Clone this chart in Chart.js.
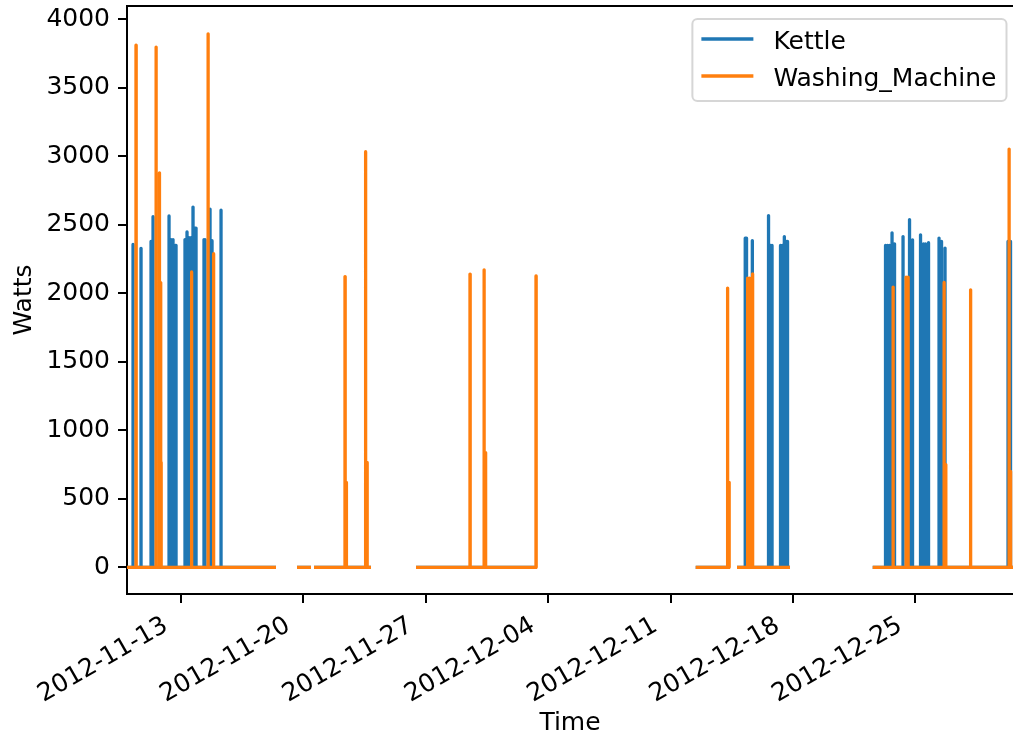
<!DOCTYPE html>
<html>
<head>
<meta charset="utf-8">
<title>Kettle and washing machine power</title>
<script src="https://cdn.jsdelivr.net/npm/chart.js@4.4.0/dist/chart.umd.min.js"></script>
<style>
  html, body { margin: 0; padding: 0; background: #fff; overflow: hidden; }
  canvas { display: block; }
</style>
</head>
<body>
<canvas id="chart" width="1013" height="738"></canvas>
<script>
// Periods in which the meter was logging (start / end of each recorded span)
const spanStart = ['2012-11-09 21:52', '2012-11-19 15:14', '2012-11-20 14:35', '2012-11-26 10:37',
                   '2012-12-12 10:35', '2012-12-14 19:17', '2012-12-22 13:34'];
const spanEnd   = ['2012-11-18 10:25', '2012-11-20 10:28', '2012-11-23 20:50', '2012-12-03 08:43',
                   '2012-12-14 09:40', '2012-12-17 20:02', '2012-12-31 00:00'];

// Kettle switch-on times and power drawn (W)
const kettleOn = [
  '2012-11-10 06:07', '2012-11-10 17:05', '2012-11-11 06:49', '2012-11-11 09:34',
  '2012-11-12 07:32', '2012-11-12 10:16', '2012-11-12 13:01', '2012-11-12 15:46', '2012-11-12 17:08',
  '2012-11-13 05:29', '2012-11-13 08:14', '2012-11-13 10:59', '2012-11-13 13:44', '2012-11-13 16:28',
  '2012-11-13 19:13', '2012-11-13 20:35', '2012-11-14 07:34', '2012-11-14 08:57', '2012-11-14 15:49',
  '2012-11-14 18:34', '2012-11-15 06:55',
  '2012-12-15 06:32', '2012-12-15 08:19', '2012-12-15 16:17', '2012-12-16 14:31', '2012-12-16 17:16',
  '2012-12-16 19:19', '2012-12-17 06:59', '2012-12-17 09:28', '2012-12-17 12:13', '2012-12-17 14:58',
  '2012-12-17 16:36',
  '2012-12-23 07:08', '2012-12-23 09:53', '2012-12-23 12:38', '2012-12-23 16:04', '2012-12-23 19:29',
  '2012-12-24 07:10', '2012-12-24 16:05', '2012-12-24 20:12', '2012-12-25 07:11', '2012-12-25 11:18',
  '2012-12-25 14:03', '2012-12-25 18:10', '2012-12-26 08:35', '2012-12-26 12:01', '2012-12-26 16:49',
  '2012-12-30 07:19', '2012-12-30 10:44'
];
const kettleWatts = [
  2356, 2328, 2378, 2559,
  2565, 2392, 2392, 2350, 2350,
  2392, 2448, 2406, 2406, 2629,
  2476, 2476, 2392, 2392, 2615,
  2384, 2606,
  2402, 2402, 2385, 2567, 2349,
  2349, 2349, 2349, 2414, 2378,
  2378,
  2349, 2349, 2349, 2441, 2361,
  2414, 2538, 2390, 2427, 2361,
  2361, 2369, 2403, 2378, 2330,
  2378, 2378
];

// Washing machine readings: heating bursts followed by lower motor phases (W)
const washerOn = [
  '2012-11-10 10:13', '2012-11-11 13:41', '2012-11-11 17:48', '2012-11-11 19:10', '2012-11-11 20:32',
  '2012-11-13 14:25', '2012-11-14 13:04', '2012-11-14 20:37',
  '2012-11-22 09:08', '2012-11-22 10:55', '2012-11-23 13:17', '2012-11-23 15:20',
  '2012-11-29 12:44', '2012-11-30 07:58', '2012-11-30 10:01', '2012-12-03 07:20',
  '2012-12-14 06:14', '2012-12-14 08:17', '2012-12-15 09:41', '2012-12-15 12:26', '2012-12-15 16:34',
  '2012-12-23 17:26', '2012-12-24 11:17', '2012-12-24 14:02', '2012-12-26 15:27', '2012-12-26 17:47',
  '2012-12-28 03:50', '2012-12-30 08:41', '2012-12-30 10:44'
];
const washerWatts = [
  3811, 3797, 2879, 2078, 765,
  2156, 3894, 2289,
  2122, 619, 3033, 765,
  2140, 2171, 837, 2127,
  2038, 620, 2111, 2111, 2142,
  2045, 2118, 2118, 2079, 750,
  2025, 3053, 700
];

const kettleMinutes = 4;
const washerMinutes = 15;

// Axis tick labels
const dateTicks = ['2012-11-13', '2012-11-20', '2012-11-27', '2012-12-04', '2012-12-11', '2012-12-18', '2012-12-25'];
const wattTicks = [0, 500, 1000, 1500, 2000, 2500, 3000, 3500, 4000];

// Visible window
const viewStart = '2012-11-09 21:52';
const viewEnd = '2012-12-30 14:10';
const wattMin = -195, wattMax = 4097;

function toMs(s) {
  const [d, t] = s.split(' ');
  const [y, mo, da] = d.split('-').map(Number);
  const [h, mi] = (t || '00:00').split(':').map(Number);
  return Date.UTC(y, mo - 1, da, h, mi);
}

// Turn switch-on readings into a stepped 0/W trace, broken between logging spans
function buildTrace(onTimes, watts, minutes) {
  const pts = [];
  spanStart.forEach((s, i) => {
    const a = toMs(s), b = toMs(spanEnd[i]);
    pts.push({x: a, y: 0});
    onTimes.forEach((t, j) => {
      const on = toMs(t);
      if (on < a || on > b) return;
      const off = Math.min(on + minutes * 60000, b);
      pts.push({x: on, y: 0}, {x: on, y: watts[j]}, {x: off, y: watts[j]}, {x: off, y: 0});
    });
    pts.push({x: b, y: 0});
    pts.push({x: b, y: null});
  });
  return pts;
}

const FONT = 'DejaVu Sans';
Chart.defaults.font.family = FONT;
Chart.defaults.font.size = 25;
Chart.defaults.color = '#000';

// Top spine of the axes box
const frameTop = {
  id: 'frameTop',
  afterDatasetsDraw(chart) {
    const {ctx, chartArea} = chart;
    ctx.save();
    ctx.strokeStyle = '#000';
    ctx.lineWidth = 2;
    ctx.beginPath();
    ctx.moveTo(chartArea.left - 1, chartArea.top);
    ctx.lineTo(chart.width, chartArea.top);
    ctx.stroke();
    ctx.restore();
  }
};

// Legend box in the upper right corner of the axes
const cornerLegend = {
  id: 'cornerLegend',
  afterDraw(chart) {
    const {ctx, chartArea} = chart;
    const sets = chart.data.datasets;
    ctx.save();
    ctx.font = '25px "' + FONT + '"';
    const textW = Math.max(...sets.map(d => ctx.measureText(d.label).width));
    const w = 10 + 50 + 21 + textW + 10;
    const h = 82;
    const x1 = chartArea.right - 6.5;
    const x0 = x1 - w;
    const y0 = chartArea.top + 13;
    ctx.beginPath();
    ctx.roundRect(x0, y0, w, h, 5);
    ctx.fillStyle = 'rgba(255,255,255,0.8)';
    ctx.fill();
    ctx.strokeStyle = 'rgba(204,204,204,0.8)';
    ctx.lineWidth = 2;
    ctx.stroke();
    sets.forEach((d, i) => {
      const cy = y0 + 20 + i * 37;
      ctx.strokeStyle = d.borderColor;
      ctx.lineWidth = 3.3;
      ctx.beginPath();
      ctx.moveTo(x0 + 9, cy);
      ctx.lineTo(x0 + 61, cy);
      ctx.stroke();
      ctx.fillStyle = '#000';
      ctx.textBaseline = 'alphabetic';
      ctx.textAlign = 'left';
      ctx.fillText(d.label, x0 + 81, cy + 9.5);
    });
    ctx.restore();
  }
};

new Chart(document.getElementById('chart'), {
  type: 'line',
  data: {
    datasets: [
      {
        label: 'Kettle',
        data: buildTrace(kettleOn, kettleWatts, kettleMinutes),
        borderColor: '#1f77b4',
        order: 1
      },
      {
        label: 'Washing_Machine',
        data: buildTrace(washerOn, washerWatts, washerMinutes),
        borderColor: '#ff7f0e',
        order: 0
      }
    ]
  },
  options: {
    responsive: false,
    animation: false,
    devicePixelRatio: 1,
    layout: { padding: { top: 6, left: 0, right: 0, bottom: 0 } },
    elements: {
      line: { borderWidth: 3.3, tension: 0, borderJoinStyle: 'round', borderCapStyle: 'butt', fill: false },
      point: { radius: 0, hoverRadius: 0 }
    },
    plugins: {
      legend: { display: false },
      tooltip: { enabled: false },
      decimation: { enabled: false }
    },
    scales: {
      x: {
        type: 'linear',
        min: toMs(viewStart),
        max: toMs(viewEnd),
        afterBuildTicks: s => { s.ticks = dateTicks.map(d => ({value: toMs(d)})); },
        afterFit: s => { s.height = 144; s.paddingLeft = 0; s.paddingRight = 0; },
        ticks: {
          callback: (v, i) => dateTicks[i],
          autoSkip: false, minRotation: 30, maxRotation: 30,
          padding: 8, labelOffset: -15, color: '#000', font: { size: 25 }
        },
        grid: { drawOnChartArea: false, drawTicks: true, tickLength: 9, color: '#000', lineWidth: 2 },
        border: { display: true, color: '#000', width: 2 },
        title: { display: true, text: 'Time', color: '#000', font: { size: 25 }, padding: { top: 0, bottom: 0 } }
      },
      y: {
        type: 'linear',
        min: wattMin,
        max: wattMax,
        afterBuildTicks: s => { s.ticks = wattTicks.map(v => ({value: v})); },
        afterFit: s => { s.width = 127; s.paddingTop = 0; s.paddingBottom = 0; },
        ticks: {
          callback: v => String(v),
          autoSkip: false, padding: 8, color: '#000', font: { size: 25 }
        },
        grid: { drawOnChartArea: false, drawTicks: true, tickLength: 9, color: '#000', lineWidth: 2 },
        border: { display: true, color: '#000', width: 2 },
        title: { display: true, text: 'Watts', color: '#000', font: { size: 25 }, padding: { top: 9, bottom: 0 } }
      }
    }
  },
  plugins: [frameTop, cornerLegend]
});
</script>
</body>
</html>
